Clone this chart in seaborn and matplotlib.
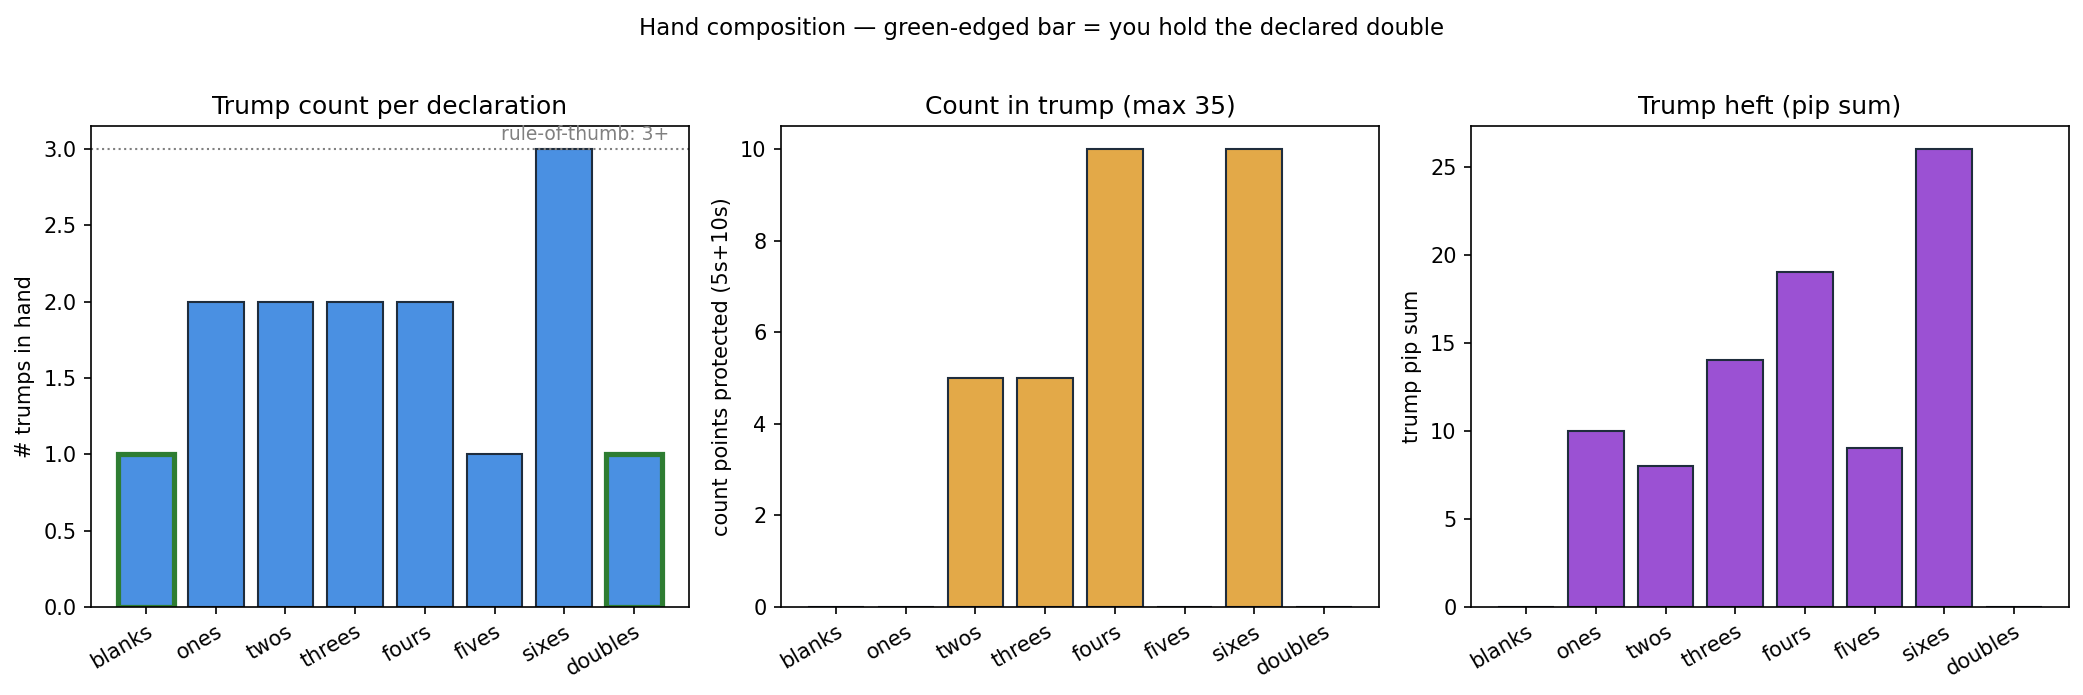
import matplotlib
matplotlib.use("Agg")
import matplotlib.pyplot as plt
import seaborn as sns
import pandas as pd

# declarations and per-suit hand stats
suits = ["blanks", "ones", "twos", "threes", "fours", "fives", "sixes", "doubles"]
trump_count = [1, 2, 2, 2, 2, 1, 3, 1]
count_points = [0, 0, 5, 5, 10, 0, 10, 0]
pip_sum = [0, 10, 8, 14, 19, 9, 26, 0]
holds_double = [True, False, False, False, False, False, False, True]

df = pd.DataFrame({"suit": suits, "trumps": trump_count,
                   "count": count_points, "pips": pip_sum})

plt.rcParams["font.family"] = ["DejaVu Sans"]

fig, axes = plt.subplots(1, 3, figsize=(2083 / 150, 695 / 150), dpi=150)
edge = "#1f2d3d"

panels = [
    ("trumps", "#4a90e2", "Trump count per declaration", "# trumps in hand"),
    ("count", "#e3a948", "Count in trump (max 35)", "count points protected (5s+10s)"),
    ("pips", "#9b51d3", "Trump heft (pip sum)", "trump pip sum"),
]

n = len(suits)
for ax, (col, colour, title, ylab) in zip(axes, panels):
    sns.barplot(data=df, x="suit", y=col, color=colour, saturation=1,
                edgecolor=edge, linewidth=1, ax=ax)
    ax.set_title(title, fontsize=12)
    ax.set_ylabel(ylab)
    ax.set_xlabel("")
    # matplotlib-like x margins instead of seaborn's tight limits
    span = (n - 1) + 0.8
    ax.set_xlim(-0.4 - 0.05 * span, n - 1 + 0.4 + 0.05 * span)
    for lbl in ax.get_xticklabels():
        lbl.set_rotation(30)
        lbl.set_ha("right")
        lbl.set_rotation_mode("anchor")

# green edge where the declared double is held
for patch, held in zip(axes[0].patches, holds_double):
    if held:
        patch.set_edgecolor("#2e7d32")
        patch.set_linewidth(2.5)

axes[0].axhline(3, ls=":", color="grey", lw=1)
axes[0].text(n - 0.5, 3.03, "rule-of-thumb: 3+", ha="right", va="bottom",
             fontsize=9, color="grey")
axes[0].set_ylim(0, 3.15)

fig.suptitle("Hand composition \u2014 green-edged bar = you hold the declared double",
             fontsize=11, y=0.975)
fig.subplots_adjust(left=0.0437, right=0.9933, top=0.8187, bottom=0.1266, wspace=0.154)
fig.savefig("out.png", dpi=150)
